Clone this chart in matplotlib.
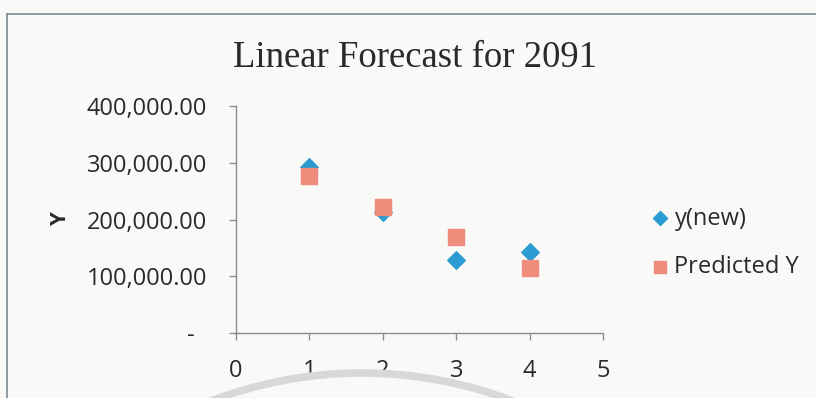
import matplotlib.pyplot as plt
from matplotlib.patches import Arc
from matplotlib.ticker import FuncFormatter

# forecast data
x_vals = [1, 2, 3, 4]
y_new = [293000, 214000, 128500, 143000]
y_pred = [276500, 222000, 168500, 114500]

x_ticks = [0, 1, 2, 3, 4, 5]
y_ticks = [0, 100000, 200000, 300000, 400000]

BLUE = "#2b9bd1"
SALMON = "#ef8c7b"
AXIS_GREY = "#8c8c8c"
TEXT = "#2a2a2a"
W, H = 816, 398

fig = plt.figure(figsize=(8.16, 3.98), dpi=100)
fig.patch.set_facecolor("#f9f9f8")

# chart frame (top and left edges show on the page)
fig.add_artist(plt.Line2D([7 / W, 7 / W], [0, 1 - 14 / H], transform=fig.transFigure,
                          color="#7d8a94", lw=1.2))
fig.add_artist(plt.Line2D([7 / W, 1], [1 - 14 / H, 1 - 14 / H], transform=fig.transFigure,
                          color="#7d8a94", lw=1.2))

ax = fig.add_axes([236 / W, 1 - 333 / H, (603 - 236) / W, (333 - 106) / H])
ax.set_facecolor("none")

ax.scatter(x_vals, y_new, marker="D", s=80, color=BLUE, label="y(new)", zorder=3)
ax.scatter(x_vals, y_pred, marker="s", s=120, color=SALMON, label="Predicted Y", zorder=4)

ax.set_xlim(0, 5)
ax.set_ylim(0, 400000)
ax.set_xticks(x_ticks)
ax.set_yticks(y_ticks)


def money(v, pos):
    # accounting style: zero shows as a dash
    if v == 0:
        return "-  "
    return f"{v:,.2f}"


ax.yaxis.set_major_formatter(FuncFormatter(money))

for s in ["top", "right"]:
    ax.spines[s].set_visible(False)
for s in ["left", "bottom"]:
    ax.spines[s].set_color(AXIS_GREY)
    ax.spines[s].set_linewidth(1.0)

ax.tick_params(axis="y", direction="out", length=5, width=1.0, color=AXIS_GREY,
               pad=16, labelsize=17, labelcolor=TEXT)
ax.tick_params(axis="x", direction="out", length=5, width=1.0, color=AXIS_GREY,
               pad=14, labelsize=17, labelcolor=TEXT)
for lbl in ax.get_xticklabels() + ax.get_yticklabels():
    lbl.set_fontfamily("Open Sans")

ax.set_ylabel("Y", fontsize=16, fontweight="bold", color=TEXT, fontfamily="Open Sans")
ax.yaxis.set_label_coords(-(236 - 71) / 367, 0.5)

fig.text(415 / W, 1 - 58 / H, "Linear Forecast for 2091", ha="center", va="center",
         fontsize=26.5, fontfamily="Liberation Serif", color=TEXT)

leg = ax.legend(loc="center left", bbox_to_anchor=(632 / W, 1 - 243 / H),
                bbox_transform=fig.transFigure, frameon=False, handlelength=0.6,
                handletextpad=0.3, labelspacing=1.05, markerscale=0.8,
                prop={"family": "Open Sans", "size": 17})
for t in leg.get_texts():
    t.set_color(TEXT)

# page watermark arcs along the bottom edge
cx, top = 362, 373
for r, w in [(421, 5.5), (400, 3)]:
    cy = top + r
    fig.add_artist(Arc((cx / W, 1 - cy / H), 2 * r / W, 2 * r / H,
                       theta1=66, theta2=114, transform=fig.transFigure,
                       color="#d8d8d8", lw=w))

fig.savefig("out.png", dpi=100, facecolor=fig.get_facecolor())
